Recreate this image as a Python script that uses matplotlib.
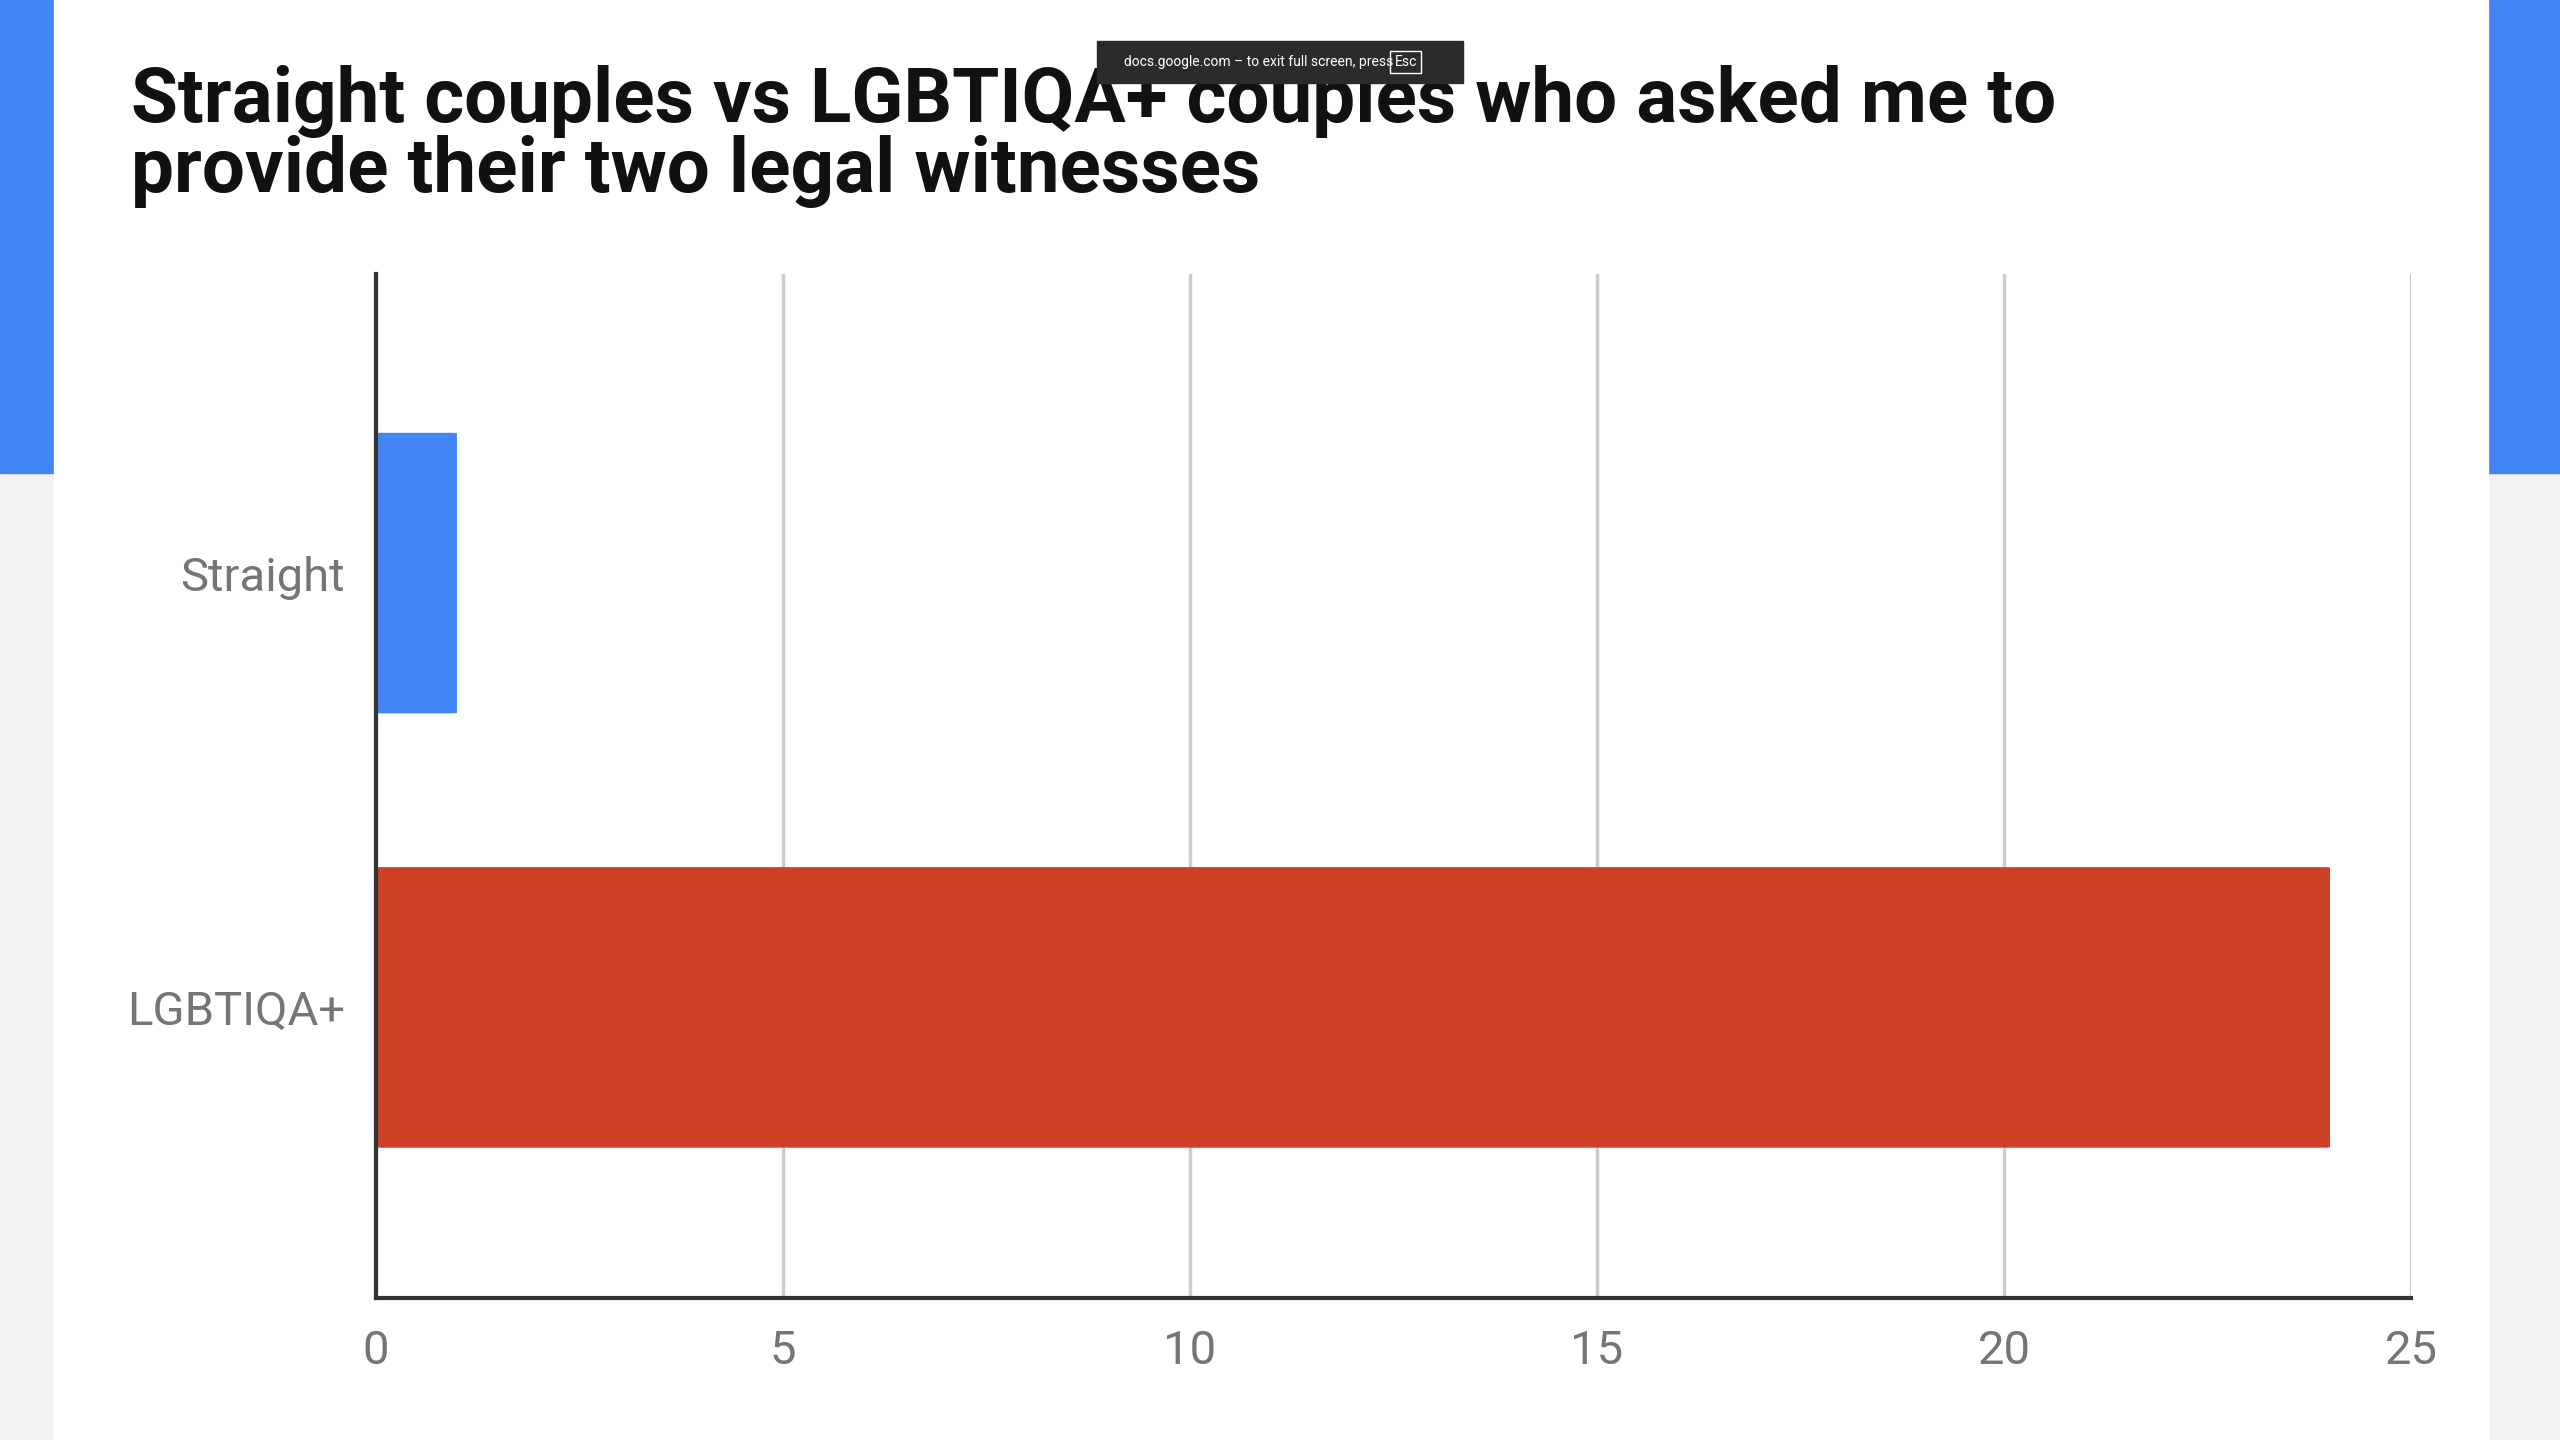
import matplotlib.pyplot as plt
from matplotlib.patches import Rectangle, FancyBboxPatch

plt.rcParams['font.family'] = ['Roboto', 'DejaVu Sans']

categories = ['Straight', 'LGBTIQA+']
values = [1, 24]
colors = ['#4285f4', '#cc4125']
ticks = [0, 5, 10, 15, 20, 25]

title = 'Straight couples vs LGBTIQA+ couples who asked me to\nprovide their two legal witnesses'

W, H = 1568, 882

fig = plt.figure(figsize=(25.6, 14.4), dpi=100)
fig.patch.set_facecolor('#f3f1f1')

# slide background and side bars
fig.add_artist(Rectangle((0, 1 - 290 / H), 33 / W, 290 / H, transform=fig.transFigure, color='#4285f4', zorder=0))
fig.add_artist(Rectangle((1524 / W, 1 - 290 / H), 44 / W, 290 / H, transform=fig.transFigure, color='#4285f4', zorder=0))
fig.add_artist(Rectangle((33 / W, 0), (1524 - 33) / W, 1, transform=fig.transFigure, color='white', zorder=0))

ax = fig.add_axes([230 / W, 1 - 795 / H, (1477 - 230) / W, (795 - 168) / H])
ax.set_facecolor('none')
ypos = list(range(len(categories)))
for y, v, c in zip(ypos, values, colors):
    ax.add_patch(FancyBboxPatch((0, y - 0.323), v, 0.646, boxstyle='round,pad=0,rounding_size=0.08',
                                mutation_aspect=1 / 60, color=c, lw=0, zorder=3))
ax.set_xlim(0, 25)
ax.set_ylim(1.669, -0.688)
ax.set_yticks(ypos)
ax.set_yticklabels(categories)
ax.set_xticks(ticks)
ax.grid(axis='x', color='#cccccc', lw=2.5, zorder=0)
for s in ['top', 'right']:
    ax.spines[s].set_visible(False)
for s in ['left', 'bottom']:
    ax.spines[s].set_color('#333333')
    ax.spines[s].set_linewidth(3)
    ax.spines[s].set_zorder(4)
ax.tick_params(length=0, labelsize=34, labelcolor='#757575', pad=22)

fig.text(80 / W, 1 - 40 / H, title, fontsize=55, fontweight='bold', color='#111111',
         va='top', ha='left', linespacing=0.95)

# fullscreen notice
fig.add_artist(Rectangle((672 / W, 1 - 51 / H), 224 / W, 26 / H, transform=fig.transFigure,
                         color='#2b2b2b', zorder=5))
fig.text(771 / W, 1 - 38 / H, 'docs.google.com \u2013 to exit full screen, press', fontsize=10,
         color='white', ha='center', va='center', zorder=6)
fig.text(861 / W, 1 - 38 / H, 'Esc', fontsize=10, color='white', ha='center', va='center', zorder=6,
         bbox=dict(facecolor='none', edgecolor='white', boxstyle='square,pad=0.3', lw=1))

fig.savefig('out.png', dpi=100)
